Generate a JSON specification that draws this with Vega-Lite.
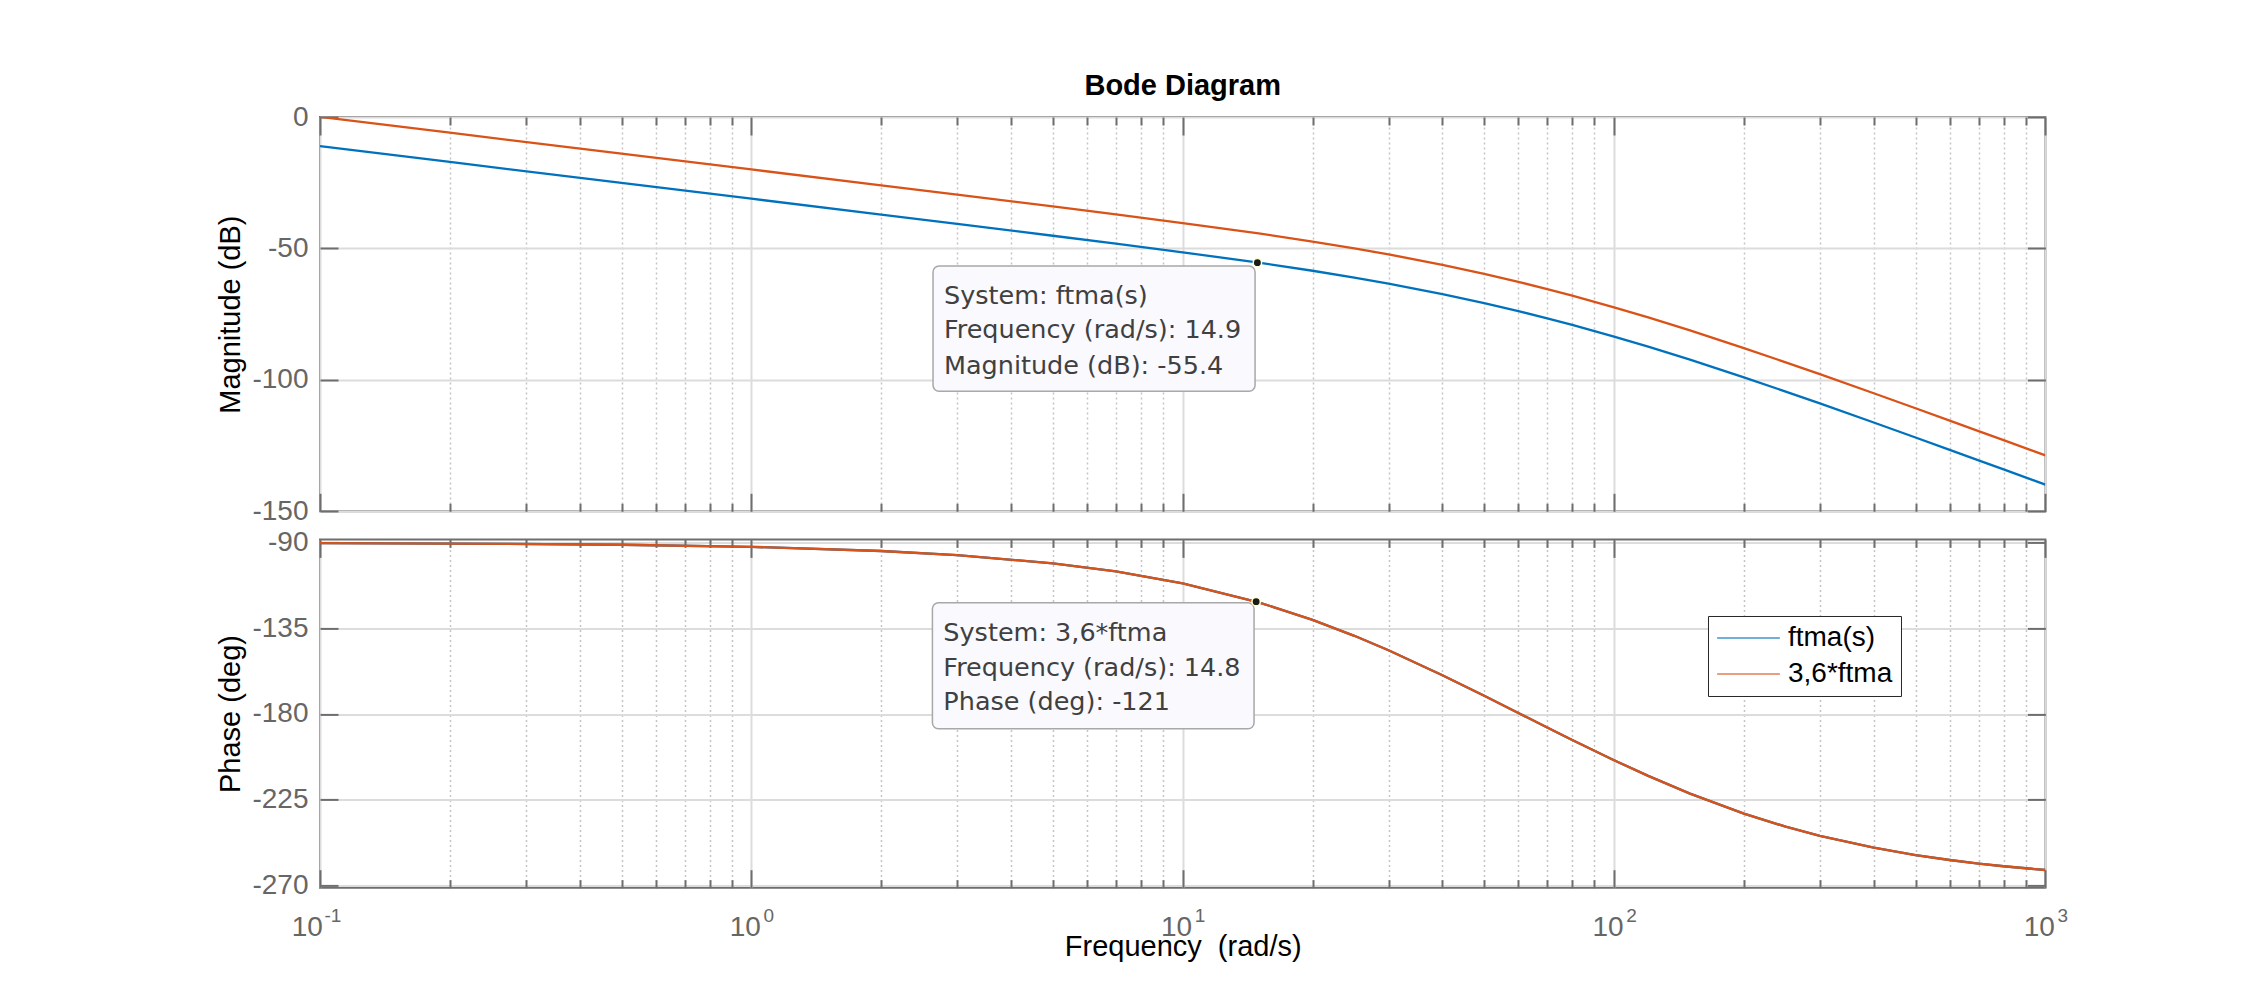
{
  "$schema": "https://vega.github.io/schema/vega-lite/v6.json",
  "background": "white",
  "padding": {"left": 216, "top": 71, "right": 10, "bottom": 10},
  "bounds": "flush",
  "spacing": 27.4,
  "resolve": {"scale": {"color": "independent"}, "legend": {"color": "independent"}},
  "config": {
    "font": "Liberation Sans",
    "view": {"stroke": "#6e6e6e", "strokeWidth": 2},
    "axis": {"labelFont": "Liberation Sans", "titleFont": "Liberation Sans", "domain": false, "labelFlush": false, "labelOverlap": false, "labelBound": false, "tickColor": "#6e6e6e", "tickWidth": 2, "gridColor": "#dcdcdc", "gridWidth": 2, "labelColor": "#666666", "titleColor": "#000000", "titleFontWeight": "normal"}
  },
  "datasets": {
    "bode": [
      {"w": 0.1, "sys": "ftma(s)", "mag": -11.09, "phase": -90.22},
      {"w": 0.2, "sys": "ftma(s)", "mag": -17.11, "phase": -90.44},
      {"w": 0.5, "sys": "ftma(s)", "mag": -25.07, "phase": -91.09},
      {"w": 1, "sys": "ftma(s)", "mag": -31.09, "phase": -92.18},
      {"w": 2, "sys": "ftma(s)", "mag": -37.13, "phase": -94.36},
      {"w": 3, "sys": "ftma(s)", "mag": -40.67, "phase": -96.54},
      {"w": 5, "sys": "ftma(s)", "mag": -45.17, "phase": -100.86},
      {"w": 7, "sys": "ftma(s)", "mag": -48.18, "phase": -105.12},
      {"w": 10, "sys": "ftma(s)", "mag": -51.47, "phase": -111.39},
      {"w": 15, "sys": "ftma(s)", "mag": -55.43, "phase": -121.33},
      {"w": 20, "sys": "ftma(s)", "mag": -58.49, "phase": -130.53},
      {"w": 25, "sys": "ftma(s)", "mag": -61.08, "phase": -138.93},
      {"w": 30, "sys": "ftma(s)", "mag": -63.36, "phase": -146.55},
      {"w": 40, "sys": "ftma(s)", "mag": -67.35, "phase": -159.67},
      {"w": 50, "sys": "ftma(s)", "mag": -70.78, "phase": -170.47},
      {"w": 60, "sys": "ftma(s)", "mag": -73.83, "phase": -179.49},
      {"w": 70, "sys": "ftma(s)", "mag": -76.58, "phase": -187.13},
      {"w": 80, "sys": "ftma(s)", "mag": -79.08, "phase": -193.68},
      {"w": 100, "sys": "ftma(s)", "mag": -83.51, "phase": -204.31},
      {"w": 120, "sys": "ftma(s)", "mag": -87.36, "phase": -212.55},
      {"w": 150, "sys": "ftma(s)", "mag": -92.31, "phase": -221.87},
      {"w": 200, "sys": "ftma(s)", "mag": -99.03, "phase": -232.38},
      {"w": 250, "sys": "ftma(s)", "mag": -104.45, "phase": -239.25},
      {"w": 300, "sys": "ftma(s)", "mag": -108.97, "phase": -244.06},
      {"w": 400, "sys": "ftma(s)", "mag": -116.23, "phase": -250.29},
      {"w": 500, "sys": "ftma(s)", "mag": -121.93, "phase": -254.14},
      {"w": 600, "sys": "ftma(s)", "mag": -126.62, "phase": -256.74},
      {"w": 700, "sys": "ftma(s)", "mag": -130.6, "phase": -258.61},
      {"w": 800, "sys": "ftma(s)", "mag": -134.05, "phase": -260.02},
      {"w": 1000, "sys": "ftma(s)", "mag": -139.84, "phase": -262.0},
      {"w": 0.1, "sys": "3,6*ftma", "mag": 0.04, "phase": -90.22},
      {"w": 0.2, "sys": "3,6*ftma", "mag": -5.98, "phase": -90.44},
      {"w": 0.5, "sys": "3,6*ftma", "mag": -13.94, "phase": -91.09},
      {"w": 1, "sys": "3,6*ftma", "mag": -19.96, "phase": -92.18},
      {"w": 2, "sys": "3,6*ftma", "mag": -26.0, "phase": -94.36},
      {"w": 3, "sys": "3,6*ftma", "mag": -29.54, "phase": -96.54},
      {"w": 5, "sys": "3,6*ftma", "mag": -34.04, "phase": -100.86},
      {"w": 7, "sys": "3,6*ftma", "mag": -37.05, "phase": -105.12},
      {"w": 10, "sys": "3,6*ftma", "mag": -40.34, "phase": -111.39},
      {"w": 15, "sys": "3,6*ftma", "mag": -44.3, "phase": -121.33},
      {"w": 20, "sys": "3,6*ftma", "mag": -47.37, "phase": -130.53},
      {"w": 25, "sys": "3,6*ftma", "mag": -49.95, "phase": -138.93},
      {"w": 30, "sys": "3,6*ftma", "mag": -52.24, "phase": -146.55},
      {"w": 40, "sys": "3,6*ftma", "mag": -56.22, "phase": -159.67},
      {"w": 50, "sys": "3,6*ftma", "mag": -59.66, "phase": -170.47},
      {"w": 60, "sys": "3,6*ftma", "mag": -62.71, "phase": -179.49},
      {"w": 70, "sys": "3,6*ftma", "mag": -65.45, "phase": -187.13},
      {"w": 80, "sys": "3,6*ftma", "mag": -67.95, "phase": -193.68},
      {"w": 100, "sys": "3,6*ftma", "mag": -72.39, "phase": -204.31},
      {"w": 120, "sys": "3,6*ftma", "mag": -76.23, "phase": -212.55},
      {"w": 150, "sys": "3,6*ftma", "mag": -81.18, "phase": -221.87},
      {"w": 200, "sys": "3,6*ftma", "mag": -87.91, "phase": -232.38},
      {"w": 250, "sys": "3,6*ftma", "mag": -93.32, "phase": -239.25},
      {"w": 300, "sys": "3,6*ftma", "mag": -97.84, "phase": -244.06},
      {"w": 400, "sys": "3,6*ftma", "mag": -105.1, "phase": -250.29},
      {"w": 500, "sys": "3,6*ftma", "mag": -110.8, "phase": -254.14},
      {"w": 600, "sys": "3,6*ftma", "mag": -115.49, "phase": -256.74},
      {"w": 700, "sys": "3,6*ftma", "mag": -119.47, "phase": -258.61},
      {"w": 800, "sys": "3,6*ftma", "mag": -122.93, "phase": -260.02},
      {"w": 1000, "sys": "3,6*ftma", "mag": -128.71, "phase": -262.0}
    ],
    "boxMag": [{"x1": 2.6375, "x2": 14.716, "y1": -56.68, "y2": -104.35}],
    "textMag": [
      {"x": 2.796, "y": -71.02, "t": "System: ftma(s)"},
      {"x": 2.796, "y": -84.07, "t": "Frequency (rad/s): 14.9"},
      {"x": 2.796, "y": -97.65, "t": "Magnitude (dB): -55.4"}
    ],
    "dotMag": [{"w": 14.9, "v": -55.4}],
    "boxPh": [{"x1": 2.629, "x2": 14.637, "y1": -121.53, "y2": -187.75}],
    "textPh": [
      {"x": 2.787, "y": -141.66, "t": "System: 3,6*ftma"},
      {"x": 2.787, "y": -160.05, "t": "Frequency (rad/s): 14.8"},
      {"x": 2.787, "y": -178.13, "t": "Phase (deg): -121"}
    ],
    "dotPh": [{"w": 14.8, "v": -121}]
  },
  "vconcat": [
    {
      "title": {"text": "Bode Diagram", "fontSize": 29, "fontWeight": "bold", "font": "Liberation Sans", "color": "#000000", "anchor": "middle", "offset": 2},
      "width": 1725.4,
      "height": 394.3,
      "resolve": {"axis": {"x": "independent", "y": "independent"}},
      "layer": [
        {
          "data": {"name": "bode"},
          "transform": [{"filter": "datum.sys === 'ftma(s)'"}],
          "mark": {"type": "line", "strokeWidth": 2.3, "clip": true},
          "encoding": {
            "x": {"field": "w", "type": "quantitative", "scale": {"type": "log", "domain": [0.1, 1000], "nice": false},
              "axis": {"orient": "bottom", "values": [0.1, 1, 10, 100, 1000], "labels": false, "ticks": true, "tickSize": -18, "grid": true, "title": null}},
            "y": {"field": "mag", "type": "quantitative", "scale": {"domain": [-150, 0], "nice": false, "zero": false},
              "axis": {"orient": "left", "values": [-150, -100, -50, 0], "labelExpr": "'' + datum.value", "ticks": false, "grid": true, "labelFontSize": 28, "labelPadding": 12, "labelBaseline": "middle",
                "title": "Magnitude (dB)", "titleFontSize": 29, "titleX": -80, "titleY": 197.15, "titleAngle": -90, "titleBaseline": "alphabetic", "titleAlign": "center"}},
            "color": {"field": "sys", "type": "nominal", "scale": {"domain": ["ftma(s)", "3,6*ftma"], "range": ["#0072BD", "#D95319"]}, "legend": null}
          }
        },
        {
          "data": {"name": "bode"},
          "transform": [{"filter": "datum.sys === '3,6*ftma'"}],
          "mark": {"type": "line", "strokeWidth": 2.3, "clip": true},
          "encoding": {
            "x": {"field": "w", "type": "quantitative", "scale": {"type": "log", "domain": [0.1, 1000], "nice": false},
              "axis": {"orient": "bottom", "values": [0.2,0.3,0.4,0.5,0.6,0.7,0.8,0.9,2,3,4,5,6,7,8,9,20,30,40,50,60,70,80,90,200,300,400,500,600,700,800,900],
                "labels": false, "ticks": true, "tickSize": -8, "grid": true, "gridDash": [2, 3], "gridColor": "#c4c4c4", "gridWidth": 1.5, "title": null}},
            "y": {"field": "mag", "type": "quantitative", "scale": {"domain": [-150, 0], "nice": false, "zero": false},
              "axis": {"orient": "left", "values": [-150, -100, -50, 0], "labels": false, "ticks": true, "tickSize": -18, "grid": false, "title": null}},
            "color": {"field": "sys", "type": "nominal", "scale": {"domain": ["ftma(s)", "3,6*ftma"], "range": ["#0072BD", "#D95319"]}, "legend": null}
          }
        },
        {
          "data": {"name": "boxMag"},
          "mark": {"type": "rect", "fill": "#f9f9fe", "stroke": "#a8a8a8", "strokeWidth": 1.5, "cornerRadius": 6},
          "encoding": {
            "x": {"field": "x1", "type": "quantitative", "scale": {"type": "log", "domain": [0.1, 1000], "nice": false},
              "axis": {"orient": "top", "values": [0.1,0.2,0.3,0.4,0.5,0.6,0.7,0.8,0.9,1,2,3,4,5,6,7,8,9,10,20,30,40,50,60,70,80,90,100,200,300,400,500,600,700,800,900,1000],
                "labels": false, "ticks": true, "grid": false,
                "tickSize": {"condition": {"test": "abs(log(datum.value)/LN10 - round(log(datum.value)/LN10)) < 0.001", "value": -18}, "value": -8},
                "title": null}},
            "x2": {"field": "x2"},
            "y": {"field": "y1", "type": "quantitative", "scale": {"domain": [-150, 0], "nice": false, "zero": false},
              "axis": {"orient": "right", "values": [-150, -100, -50, 0], "labels": false, "ticks": true, "tickSize": -18, "grid": false, "title": null}},
            "y2": {"field": "y2"}
          }
        },
        {
          "data": {"name": "textMag"},
          "mark": {"type": "text", "align": "left", "baseline": "alphabetic", "fontSize": 25.5, "font": "DejaVu Sans", "color": "#404040"},
          "encoding": {
            "x": {"field": "x", "type": "quantitative", "scale": {"type": "log", "domain": [0.1, 1000], "nice": false}, "axis": null},
            "y": {"field": "y", "type": "quantitative", "scale": {"domain": [-150, 0], "nice": false, "zero": false}, "axis": null},
            "text": {"field": "t"}
          }
        },
        {
          "data": {"name": "dotMag"},
          "mark": {"type": "point", "filled": true, "size": 70, "fill": "#1a1a1a", "stroke": "#ffffcc", "strokeWidth": 1.5, "opacity": 1},
          "encoding": {
            "x": {"field": "w", "type": "quantitative", "scale": {"type": "log", "domain": [0.1, 1000], "nice": false}, "axis": null},
            "y": {"field": "v", "type": "quantitative", "scale": {"domain": [-150, 0], "nice": false, "zero": false}, "axis": null}
          }
        }
      ]
    },
    {
      "width": 1725.4,
      "height": 348.3,
      "resolve": {"axis": {"x": "independent", "y": "independent"}},
      "layer": [
        {
          "data": {"name": "bode"},
          "transform": [{"filter": "datum.sys === 'ftma(s)'"}],
          "mark": {"type": "line", "strokeWidth": 2.3, "clip": true},
          "encoding": {
            "x": {"field": "w", "type": "quantitative", "scale": {"type": "log", "domain": [0.1, 1000], "nice": false},
              "axis": {"orient": "bottom", "values": [0.1, 1, 10, 100, 1000], "labelExpr": "'10'", "ticks": false, "grid": false,
                "labelAlign": "right", "labelBaseline": "alphabetic", "labelFontSize": 28, "labelPadding": 48.3,
                "labelOffset": {"condition": {"test": "datum.value < 0.5", "value": 2.4}, "value": 9},
                "title": "Frequency \u00a0(rad/s)", "titleFontSize": 29, "titleBaseline": "alphabetic", "titleAlign": "center", "titleX": 862.7, "titleY": 68}},
            "y": {"field": "phase", "type": "quantitative", "scale": {"domain": [-271.3, -88.27], "nice": false, "zero": false},
              "axis": {"orient": "left", "values": [-270, -225, -180, -135, -90], "labelExpr": "'' + datum.value", "ticks": false, "grid": true, "labelFontSize": 28, "labelPadding": 12, "labelBaseline": "middle",
                "title": "Phase (deg)", "titleFontSize": 29, "titleX": -80, "titleY": 174.15, "titleAngle": -90, "titleBaseline": "alphabetic", "titleAlign": "center"}},
            "color": {"field": "sys", "type": "nominal", "scale": {"domain": ["ftma(s)", "3,6*ftma"], "range": ["#0072BD", "#D95319"]},
              "legend": {"orient": "none", "legendX": 1388, "legendY": 76.6, "title": null, "symbolType": "stroke", "symbolSize": 3931, "symbolStrokeWidth": 1.5, "symbolOpacity": 0.75,
                "labelFontSize": 28, "labelFont": "Liberation Sans", "labelColor": "#000000", "padding": 8, "rowPadding": 8, "labelOffset": 7, "clipHeight": 28,
                "strokeColor": "#262626", "fillColor": "#ffffff"}}
          }
        },
        {
          "data": {"name": "bode"},
          "transform": [{"filter": "datum.sys === '3,6*ftma'"}],
          "mark": {"type": "line", "strokeWidth": 2.3, "clip": true},
          "encoding": {
            "x": {"field": "w", "type": "quantitative", "scale": {"type": "log", "domain": [0.1, 1000], "nice": false},
              "axis": {"orient": "bottom", "values": [0.1, 1, 10, 100, 1000],
                "labelExpr": "datum.value < 0.5 ? '-1' : datum.value < 5 ? '0' : datum.value < 50 ? '1' : datum.value < 500 ? '2' : '3'",
                "ticks": false, "grid": false, "labelAlign": "left", "labelBaseline": "alphabetic", "labelFontSize": 19, "labelPadding": 34.3,
                "labelOffset": {"condition": {"test": "datum.value < 0.5", "value": 4}, "value": 11.6},
                "title": null}},
            "y": {"field": "phase", "type": "quantitative", "scale": {"domain": [-271.3, -88.27], "nice": false, "zero": false},
              "axis": {"orient": "left", "values": [-270, -225, -180, -135, -90], "labels": false, "ticks": true, "tickSize": -18, "grid": false, "title": null}},
            "color": {"field": "sys", "type": "nominal", "scale": {"domain": ["ftma(s)", "3,6*ftma"], "range": ["#0072BD", "#D95319"]},
              "legend": {"orient": "none", "legendX": 1388, "legendY": 76.6, "title": null, "symbolType": "stroke", "symbolSize": 3931, "symbolStrokeWidth": 1.5, "symbolOpacity": 0.75,
                "labelFontSize": 28, "labelFont": "Liberation Sans", "labelColor": "#000000", "padding": 8, "rowPadding": 8, "labelOffset": 7, "clipHeight": 28,
                "strokeColor": "#262626", "fillColor": "#ffffff"}}
          }
        },
        {
          "data": {"name": "boxPh"},
          "mark": {"type": "rect", "fill": "#f9f9fe", "stroke": "#a8a8a8", "strokeWidth": 1.5, "cornerRadius": 6},
          "encoding": {
            "x": {"field": "x1", "type": "quantitative", "scale": {"type": "log", "domain": [0.1, 1000], "nice": false},
              "axis": {"orient": "bottom", "values": [0.1, 1, 10, 100, 1000], "labels": false, "ticks": true, "tickSize": -18, "grid": true, "title": null}},
            "x2": {"field": "x2"},
            "y": {"field": "y1", "type": "quantitative", "scale": {"domain": [-271.3, -88.27], "nice": false, "zero": false},
              "axis": {"orient": "right", "values": [-270, -225, -180, -135, -90], "labels": false, "ticks": true, "tickSize": -18, "grid": false, "title": null}},
            "y2": {"field": "y2"}
          }
        },
        {
          "data": {"name": "textPh"},
          "mark": {"type": "text", "align": "left", "baseline": "alphabetic", "fontSize": 25.5, "font": "DejaVu Sans", "color": "#404040"},
          "encoding": {
            "x": {"field": "x", "type": "quantitative", "scale": {"type": "log", "domain": [0.1, 1000], "nice": false},
              "axis": {"orient": "bottom", "values": [0.2,0.3,0.4,0.5,0.6,0.7,0.8,0.9,2,3,4,5,6,7,8,9,20,30,40,50,60,70,80,90,200,300,400,500,600,700,800,900],
                "labels": false, "ticks": true, "tickSize": -8, "grid": true, "gridDash": [2, 3], "gridColor": "#c4c4c4", "gridWidth": 1.5, "title": null}},
            "y": {"field": "y", "type": "quantitative", "scale": {"domain": [-271.3, -88.27], "nice": false, "zero": false}, "axis": null},
            "text": {"field": "t"}
          }
        },
        {
          "data": {"name": "dotPh"},
          "mark": {"type": "point", "filled": true, "size": 70, "fill": "#1a1a1a", "stroke": "#ffffcc", "strokeWidth": 1.5, "opacity": 1},
          "encoding": {
            "x": {"field": "w", "type": "quantitative", "scale": {"type": "log", "domain": [0.1, 1000], "nice": false},
              "axis": {"orient": "top", "values": [0.1,0.2,0.3,0.4,0.5,0.6,0.7,0.8,0.9,1,2,3,4,5,6,7,8,9,10,20,30,40,50,60,70,80,90,100,200,300,400,500,600,700,800,900,1000],
                "labels": false, "ticks": true, "grid": false,
                "tickSize": {"condition": {"test": "abs(log(datum.value)/LN10 - round(log(datum.value)/LN10)) < 0.001", "value": -18}, "value": -8},
                "title": null}},
            "y": {"field": "v", "type": "quantitative", "scale": {"domain": [-271.3, -88.27], "nice": false, "zero": false}, "axis": null}
          }
        }
      ]
    }
  ]
}
